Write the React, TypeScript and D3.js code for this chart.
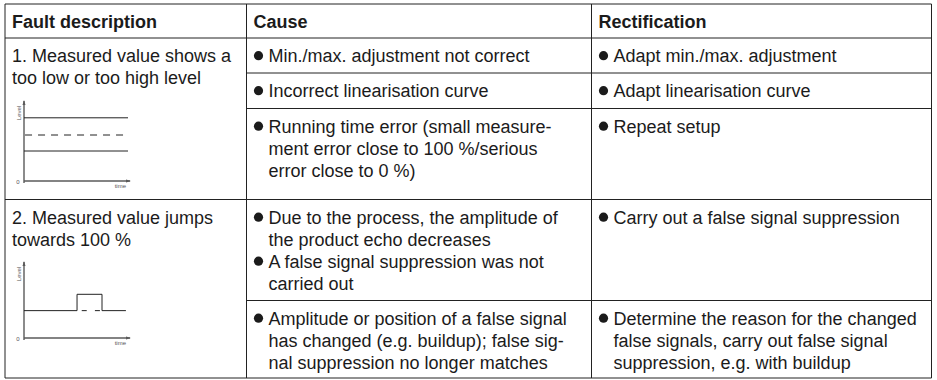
import React from "react";
import * as d3 from "d3";

// ---------- data ----------
const headers = ["Fault description", "Cause", "Rectification"];

const faultTexts = [
  ["1. Measured value shows a", "too low or too high level"],
  ["2. Measured value jumps", "towards 100 %"],
];

// each cell: list of bullets, each bullet: list of lines
const causes = [
  [["Min./max. adjustment not correct"]],
  [["Incorrect linearisation curve"]],
  [["Running time error (small measure-", "ment error close to 100 %/serious", "error close to 0 %)"]],
  [
    ["Due to the process, the amplitude of", "the product echo decreases"],
    ["A false signal suppression was not", "carried out"],
  ],
  [["Amplitude or position of a false signal", "has changed (e.g. buildup); false sig-", "nal suppression no longer matches"]],
];

const rectifications = [
  [["Adapt min./max. adjustment"]],
  [["Adapt linearisation curve"]],
  [["Repeat setup"]],
  [["Carry out a false signal suppression"]],
  [["Determine the reason for the changed", "false signals, carry out false signal", "suppression, e.g. with buildup"]],
];

// mini chart 1: three level lines (solid, dashed, solid)
const chart1Solid = [0.79, 0.375];
const chart1Dashed = [0.575];
// mini chart 2: level with a jump
const chart2Signal: [number, number][] = [
  [0, 0.36], [0.51, 0.36], [0.51, 0.575], [0.75, 0.575], [0.75, 0.36], [0.98, 0.36],
];
const chart2Dashed: [number, number][] = [[0.555, 0.36], [0.73, 0.36]];

const axisLabels = { y: "Level", x: "time", origin: "0" };

// ---------- layout ----------
const W = 937;
const H = 380;
const FONT = "'Liberation Sans', Arial, Helvetica, sans-serif";
const FS = 18;
const LH = 22;
const colX = [5, 246.5, 591.5, 931.5];
const tableTop = 4;
const headerBottom = 38;
// row tops for the 5 sub rows, plus bottom
const rowY = [38, 73, 108.5, 199.5, 300.5, 378];
const LINE = "#222";
const TEXT = "#1b1b1b";

function Bullets({ bullets, x, top }: { bullets: string[][]; x: number; top: number }) {
  const items: React.ReactNode[] = [];
  let base = top + 24;
  bullets.forEach((b, bi) => {
    items.push(<circle key={"c" + bi} cx={x + 12} cy={base - 6.3} r={4.6} fill={TEXT} />);
    b.forEach((ln, li) => {
      items.push(
        <text key={bi + "-" + li} x={x + 22} y={base} fontSize={FS} fill={TEXT} fontFamily={FONT}>
          {ln}
        </text>
      );
      base += LH;
    });
  });
  return <g>{items}</g>;
}

function MiniChart({
  top, bottom, solid, dashed, signal, signalDash,
}: {
  top: number; bottom: number; solid?: number[]; dashed?: number[];
  signal?: [number, number][]; signalDash?: [number, number][];
}) {
  const x0 = 24, x1 = 128;
  const xs = d3.scaleLinear().domain([0, 1]).range([x0, x1]);
  const ys = d3.scaleLinear().domain([0, 1]).range([bottom, top]);
  const line = d3.line<[number, number]>().x((d) => xs(d[0])).y((d) => ys(d[1]));
  const axisColor = "#5a5a5a";
  return (
    <g>
      {/* axes */}
      <line x1={x0} x2={x0} y1={bottom + 2} y2={top} stroke={axisColor} strokeWidth={1.4} />
      <path d={`M${x0 - 1.5},${top + 4} L${x0},${top - 1} L${x0 + 1.5},${top + 4} Z`} fill={axisColor} />
      <line x1={x0} x2={x1 + 2} y1={bottom} y2={bottom} stroke={axisColor} strokeWidth={1.4} />
      <path d={`M${x1 - 2},${bottom - 1.5} L${x1 + 3},${bottom} L${x1 - 2},${bottom + 1.5} Z`} fill={axisColor} />
      <text
        transform={`translate(${x0 - 3},${top + 12}) rotate(-90)`}
        textAnchor="middle" fontSize={6} fill="#555" fontFamily={FONT}
      >
        {axisLabels.y}
      </text>
      <text x={x0 - 6} y={bottom + 2.5} textAnchor="middle" fontSize={6} fill="#555" fontFamily={FONT}>
        {axisLabels.origin}
      </text>
      <text x={x1 - 2} y={bottom + 7} textAnchor="end" fontSize={6} fill="#555" fontFamily={FONT}>
        {axisLabels.x}
      </text>
      {solid?.map((v, i) => (
        <path key={"s" + i} d={line([[0, v], [1, v]]) || ""} stroke="#222" strokeWidth={1} fill="none" />
      ))}
      {dashed?.map((v, i) => (
        <path key={"d" + i} d={line([[0.01, v], [1, v]]) || ""} stroke="#222" strokeWidth={1} fill="none" strokeDasharray="7 6" />
      ))}
      {signal && <path d={line(signal) || ""} stroke="#222" strokeWidth={1} fill="none" />}
      {signalDash && (
        <path d={line(signalDash) || ""} stroke="#222" strokeWidth={1} fill="none" strokeDasharray="5 8.2" />
      )}
    </g>
  );
}

export default function App() {
  const hLines: React.ReactNode[] = [];
  // full-width lines
  [tableTop, headerBottom, rowY[3], rowY[5]].forEach((y, i) =>
    hLines.push(<line key={"hf" + i} x1={colX[0]} x2={colX[3]} y1={y} y2={y} stroke={LINE} strokeWidth={1} />)
  );
  // partial lines (cols 2-3)
  [rowY[1], rowY[2], rowY[4]].forEach((y, i) =>
    hLines.push(<line key={"hp" + i} x1={colX[1]} x2={colX[3]} y1={y} y2={y} stroke={LINE} strokeWidth={1} />)
  );
  const vLines = colX.map((x, i) => (
    <line key={"v" + i} x1={x} x2={x} y1={tableTop} y2={rowY[5]} stroke={LINE} strokeWidth={1} />
  ));

  return (
    <svg
      width={W}
      height={H}
      viewBox={`0 0 ${W} ${H}`}
      style={{ position: "absolute", left: 0, top: 0, background: "#fff" }}
    >
      <rect width={W} height={H} fill="#fff" />
      {/* header */}
      {headers.map((h, i) => (
        <text key={h} x={colX[i] + 7} y={tableTop + 24} fontSize={FS} fontWeight="bold" fill={TEXT} fontFamily={FONT}>
          {h}
        </text>
      ))}
      {/* fault descriptions */}
      {faultTexts.map((lines, fi) =>
        lines.map((ln, li) => (
          <text
            key={fi + "-" + li}
            x={colX[0] + 7}
            y={(fi === 0 ? rowY[0] : rowY[3]) + 24 + li * LH}
            fontSize={FS}
            fill={TEXT}
            fontFamily={FONT}
          >
            {ln}
          </text>
        ))
      )}
      {causes.map((c, i) => (
        <Bullets key={"c" + i} bullets={c} x={colX[1]} top={rowY[i]} />
      ))}
      {rectifications.map((c, i) => (
        <Bullets key={"r" + i} bullets={c} x={colX[2]} top={rowY[i]} />
      ))}
      <MiniChart top={101} bottom={181} solid={chart1Solid} dashed={chart1Dashed} />
      <MiniChart top={262} bottom={338} signal={chart2Signal} signalDash={chart2Dashed} />
      {hLines}
      {vLines}
    </svg>
  );
}
